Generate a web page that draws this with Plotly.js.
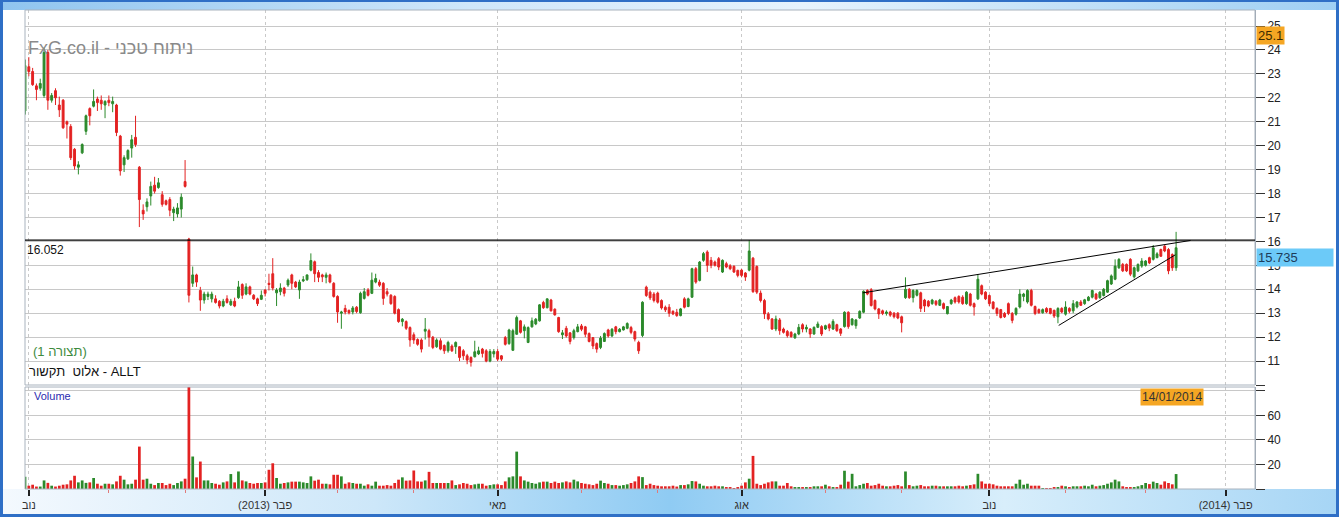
<!DOCTYPE html>
<html><head><meta charset="utf-8">
<script src="https://cdn.plot.ly/plotly-3.0.1.min.js"></script>
<style>
html,body{margin:0;padding:0;background:#fff;}
#frame{position:relative;width:1339px;height:517px;overflow:hidden;background:#fff;}
#topband{position:absolute;left:0;top:0;width:1339px;height:10px;background:linear-gradient(90deg,#8fc4ef 0%,#cfe7fa 35%,#e6f3fd 60%,#9fcff3 100%);}
#botband{position:absolute;left:0;top:489px;width:1339px;height:28px;background:linear-gradient(90deg,#f4f9fe 0%,#cde7f9 28%,#8fcbf3 50%,#d8eefb 75%,#a6d5f5 100%);}
#chart{position:absolute;left:0;top:0;width:1339px;height:517px;}
#border{position:absolute;left:0;top:0;width:1339px;height:517px;box-sizing:border-box;border:3px solid #2f6fc6;border-top-width:2px;pointer-events:none;}
</style></head>
<body>
<div id="frame"><div id="topband"></div><div id="botband"></div><div id="chart"></div><div id="border"></div></div>
<script>
// ---- data (ALLT daily, 31/10/2012 .. 14/01/2014) ----
const startDate = '2012-10-31';
const candleCount = 303;
const holidays = ['2012-10-29','2012-10-30','2012-11-22','2012-12-25','2013-01-01','2013-01-21','2013-02-18','2013-03-29','2013-05-27','2013-07-04','2013-09-02','2013-11-28','2013-12-25','2014-01-01','2014-01-20','2014-02-17'];

const open = [
21.45,23.3,23.1,22.5,22.4,22.1,23.9,21.9,22.3,21.7,
21.9,21.0,20.8,19.85,19.1,19.7,20.6,21.55,21.65,21.95,
21.9,21.7,21.9,21.75,21.7,20.4,19.2,19.45,19.9,20.35,
19.1,17.3,17.45,17.9,18.35,18.25,17.95,17.7,17.75,17.2,
17.15,17.35,18.5,16.1,14.25,14.6,13.95,13.55,13.7,13.6,
13.6,13.5,13.3,13.6,13.35,13.5,13.65,14.2,13.8,14.1,
13.75,13.6,13.58,13.97,14.25,14.65,13.85,13.9,14.05,14.18,
14.6,14.3,13.97,14.35,14.4,14.8,15.15,14.7,14.6,14.5,
14.6,14.25,13.7,13.0,13.2,13.12,13.05,13.25,13.02,13.62,
13.97,13.83,14.3,14.3,14.25,13.9,13.75,13.7,13.15,12.65,
12.65,12.4,12.1,11.9,11.88,12.25,12.27,12.0,11.6,11.85,
11.65,11.43,11.63,11.6,11.6,11.43,11.22,11.15,11.18,11.3,
11.5,11.43,11.0,11.3,11.4,11.22,11.98,11.73,11.45,12.12,
12.68,12.27,11.78,12.43,12.55,12.68,13.45,13.23,13.55,13.17,
12.82,12.1,12.37,12.18,11.98,12.23,12.47,12.43,12.15,11.98,
11.73,11.57,11.82,12.3,12.05,12.43,12.23,12.3,12.37,12.4,
12.23,11.78,12.07,14.09,13.88,13.8,13.84,13.53,13.25,13.25,
13.08,13.04,12.9,13.6,13.28,13.67,14.86,14.37,15.21,15.56,
15.21,15.14,15.28,14.72,15.07,14.98,14.96,14.79,14.8,14.68,
14.8,15.3,14.95,13.84,13.53,12.97,12.76,12.34,12.72,12.34,
12.24,12.2,11.97,12.13,12.52,12.34,12.34,12.13,12.41,12.44,
12.34,12.52,12.34,12.52,12.34,12.44,13.04,12.52,12.48,12.8,
13.04,13.95,13.98,13.53,13.18,13.1,12.99,13.05,13.0,13.0,
12.85,13.65,14.0,13.65,13.75,13.85,13.55,13.5,13.4,13.5,
13.33,13.4,12.98,13.4,13.65,13.7,13.67,13.4,13.8,13.4,
13.6,14.15,13.88,13.74,13.47,13.2,13.15,12.99,13.4,12.99,
12.96,13.26,13.7,13.47,13.95,13.28,13.15,13.02,13.2,13.2,
13.12,12.85,13.2,12.96,13.2,13.1,13.26,13.47,13.4,13.53,
13.67,13.8,13.65,13.74,13.88,14.22,14.42,14.9,15.04,15.04,
15.25,14.52,14.77,14.97,15.0,15.32,15.25,15.32,15.66,15.8,
15.66,15.45,14.9];
const high = [
23.6,23.7,23.25,22.6,22.8,24.1,24.0,22.2,22.4,22.05,
21.95,21.05,20.9,19.9,19.35,20.1,21.3,21.6,22.35,22.05,
22.1,21.9,22.1,22.05,21.75,20.45,19.6,19.85,20.45,21.25,
19.15,17.55,17.8,18.5,18.7,18.65,18.1,17.75,17.85,17.45,
17.6,18.0,19.4,16.15,14.95,14.65,14.1,13.9,13.9,13.9,
13.75,13.55,13.6,13.75,13.6,13.65,14.35,14.25,14.25,14.15,
13.8,13.65,13.95,14.0,14.65,15.3,14.05,14.25,14.1,14.45,
14.65,14.35,14.4,14.55,14.62,15.5,15.2,14.8,14.65,14.7,
14.65,14.3,13.75,13.1,13.35,13.15,13.3,13.3,13.9,14.05,
14.05,14.7,14.65,14.4,14.3,14.05,13.8,13.75,13.2,12.8,
12.7,12.45,12.2,11.95,11.95,12.8,12.35,12.05,11.95,11.95,
11.7,11.85,11.7,11.82,11.62,11.5,11.3,11.2,11.85,11.6,
11.55,11.5,11.5,11.5,11.5,11.25,12.05,12.35,12.35,12.9,
12.72,12.53,12.45,12.82,12.8,13.38,13.52,13.62,13.6,13.2,
12.85,12.3,12.47,12.2,12.35,12.55,12.55,12.47,12.2,12.0,
11.78,12.05,12.2,12.35,12.38,12.47,12.38,12.47,12.62,12.47,
12.27,11.85,13.5,14.15,13.95,13.88,13.9,13.58,13.32,13.38,
13.12,13.18,13.22,13.67,13.65,14.9,14.93,15.18,15.56,15.63,
15.35,15.2,15.35,15.25,15.15,15.05,15.0,14.82,14.85,14.72,
16.05,15.35,15.0,13.95,13.6,13.05,12.8,12.9,12.8,12.4,
12.3,12.25,12.18,12.55,12.58,12.52,12.38,12.45,12.65,12.5,
12.52,12.58,12.75,12.56,12.38,13.08,13.08,12.8,12.76,13.12,
13.95,14.0,14.05,13.58,13.22,13.15,13.12,13.1,13.05,13.05,
12.9,14.5,14.05,14.0,14.0,13.9,13.6,13.55,13.6,13.55,
13.6,13.45,13.3,13.6,13.7,13.75,13.75,13.92,13.85,13.45,
14.63,14.2,13.92,13.78,13.5,13.25,13.18,13.05,13.45,13.05,
13.25,14.0,13.85,14.0,14.02,13.32,13.2,13.2,13.25,13.22,
13.15,13.25,13.25,13.5,13.25,13.55,13.5,13.55,13.6,13.72,
13.98,13.85,13.92,14.05,14.4,14.62,15.25,15.3,15.1,15.08,
15.3,14.95,15.08,15.3,15.22,15.36,15.85,15.55,15.7,15.85,
15.72,15.5,16.4];
const low = [
21.3,22.9,22.5,21.9,22.3,22.0,21.5,21.8,21.7,21.2,
20.7,20.3,19.4,19.0,18.8,19.65,20.45,20.85,21.6,21.45,
21.5,21.15,21.65,21.4,20.4,18.75,18.9,19.4,19.5,19.95,
16.6,16.9,17.25,17.5,18.0,18.2,17.45,17.5,17.05,16.85,
17.0,17.0,18.25,13.45,14.1,14.1,13.1,13.4,13.55,13.45,
13.4,13.2,13.25,13.4,13.3,13.25,13.6,13.6,13.75,13.75,
13.55,13.3,13.55,13.7,13.95,13.95,13.3,13.75,13.7,14.1,
14.0,14.05,13.6,14.3,14.35,14.75,14.3,14.3,14.3,14.25,
14.25,13.65,12.6,12.35,12.95,12.95,12.95,13.0,12.98,13.57,
13.7,13.8,14.25,14.1,13.35,13.7,13.35,12.95,12.6,12.45,
12.3,11.6,11.72,11.64,11.36,11.9,11.6,11.5,11.55,11.45,
11.3,11.35,11.38,11.3,11.0,11.05,10.87,10.77,11.15,11.25,
11.15,10.95,10.95,11.15,11.0,11.0,11.65,11.68,11.42,12.1,
12.15,11.95,11.75,12.4,12.5,12.65,13.18,13.2,13.07,12.9,
12.18,11.92,11.98,11.7,11.9,12.2,12.25,12.0,11.78,11.5,
11.35,11.5,11.8,11.98,12.0,12.12,12.2,12.28,12.33,12.12,
11.82,11.3,12.0,13.68,13.55,13.45,13.4,13.15,13.05,12.85,
12.92,12.85,12.87,13.2,13.25,13.64,14.23,14.33,15.15,14.72,
14.88,14.95,14.8,14.68,14.88,14.8,14.68,14.5,14.5,14.35,
14.75,13.85,13.8,13.45,12.76,12.7,12.3,12.25,12.1,12.15,
11.98,11.98,11.93,12.08,12.2,12.2,11.97,12.1,12.38,12.05,
12.3,12.25,12.3,12.22,12.05,12.4,12.35,12.48,12.35,12.76,
13.0,13.75,13.28,13.12,12.76,12.92,12.9,12.85,12.78,12.75,
12.2,13.6,13.6,13.45,13.7,13.05,13.05,13.25,13.35,13.3,
13.3,13.15,12.95,13.35,13.4,13.4,13.35,13.35,13.28,12.9,
13.55,13.75,13.55,13.3,13.15,12.88,12.78,12.8,12.92,12.58,
12.9,13.2,13.5,13.4,13.28,12.92,12.98,12.98,13.0,12.95,
12.8,12.58,13.0,12.9,13.0,13.0,13.2,13.3,13.35,13.5,
13.62,13.55,13.6,13.7,13.85,14.18,14.38,14.85,14.72,14.72,
14.55,14.45,14.72,14.9,14.95,15.05,15.2,15.3,15.35,15.55,
14.63,14.77,14.77];
const close = [
23.35,23.1,22.55,22.35,22.6,23.9,21.9,22.1,22.0,21.5,
20.75,20.9,19.5,19.15,19.2,20.05,21.25,21.25,21.85,21.8,
21.75,21.85,21.8,21.85,20.55,18.95,19.5,19.8,20.25,20.05,
17.75,17.15,17.65,18.3,18.1,18.45,17.55,17.55,17.3,17.35,
17.4,17.85,18.3,13.75,14.6,14.3,13.55,13.8,13.8,13.8,
13.45,13.3,13.5,13.45,13.5,13.3,14.1,13.75,14.1,13.8,
13.6,13.4,13.75,13.83,14.2,14.05,13.97,14.05,13.83,14.38,
14.25,14.1,14.3,14.4,14.6,15.2,14.65,14.5,14.52,14.6,
14.3,13.7,13.05,13.05,13.05,13.02,13.22,13.07,13.83,13.9,
13.75,14.38,14.45,14.17,13.62,13.8,13.4,13.0,12.65,12.75,
12.37,11.88,11.88,11.7,11.5,12.33,12.0,11.57,11.88,11.5,
11.43,11.78,11.43,11.78,11.15,11.22,11.04,10.95,11.39,11.43,
11.32,11.0,11.4,11.4,11.08,11.08,11.7,12.3,12.27,12.82,
12.2,12.43,12.4,12.68,12.75,13.35,13.23,13.6,13.1,12.93,
12.23,12.18,12.05,11.82,12.27,12.43,12.33,12.12,11.82,11.63,
11.5,11.96,12.15,12.05,12.33,12.23,12.33,12.43,12.57,12.2,
11.92,11.43,13.46,13.74,13.64,13.53,13.46,13.22,13.14,13.0,
12.97,12.9,13.18,13.25,13.6,14.86,14.3,15.14,15.49,15.0,
15.0,15.0,14.93,15.21,14.93,14.86,14.72,14.58,14.58,14.51,
15.6,13.9,13.88,13.53,12.97,12.76,12.34,12.76,12.27,12.2,
12.06,12.02,12.13,12.41,12.34,12.41,12.13,12.41,12.55,12.13,
12.48,12.38,12.66,12.27,12.16,13.04,12.44,12.76,12.72,13.08,
13.92,13.8,13.32,13.18,12.97,12.99,13.05,12.92,12.85,12.8,
12.6,14.0,13.65,13.95,13.95,13.2,13.3,13.3,13.55,13.37,
13.55,13.2,13.28,13.55,13.47,13.47,13.4,13.88,13.33,13.26,
14.42,13.8,13.6,13.4,13.2,12.99,12.82,12.85,12.99,12.7,
13.2,13.8,13.8,13.95,13.33,12.99,13.02,13.15,13.05,12.99,
12.88,13.2,13.05,13.26,13.08,13.4,13.47,13.33,13.56,13.67,
13.95,13.6,13.88,14.0,14.36,14.56,14.97,15.25,14.77,14.77,
14.63,14.9,15.04,15.18,15.18,15.1,15.73,15.48,15.38,15.6,
14.77,14.9,15.735];
const volume = [
10,2.7,3.5,2,2,7,5,2.7,2,2.7,
3.5,3.8,7,10.8,5.4,7,5,5.4,9,4.3,
2.7,4.3,4.3,3.8,6.2,10.8,7.6,3.8,4.3,7.6,
34.6,7.6,8.4,4.3,3.2,4.9,4.9,3.2,4.3,3.2,
4.9,6.2,8.4,90,26.5,9.5,22.4,7,7,4.9,
4.3,3.5,5.4,6.2,12.2,5.4,14.3,7,6.2,4.9,
4.3,4.9,4.9,5.4,15.7,21,9,4.3,4.9,5.4,
6,6,6,5.4,4.9,10.3,6.8,7.6,4.3,4.3,
3.8,11.6,11.6,10.3,4.3,5.4,4.9,4.3,4.3,2.7,
3.8,2.7,6,2.7,2.7,3.2,2.7,4.9,7.6,9.5,
6.8,7,15.1,6.2,6,7,14,4.9,4.9,4.9,
4.9,4.9,7,3.2,3.8,4.9,4.3,3.2,3.8,4.3,
4.3,2.7,3.2,3.8,3.8,3.2,6.2,9.5,10.3,30.5,
10.3,7,6,4.9,4.3,5.4,6,6,4.9,6,
4.9,5.4,6.2,5.4,7.6,6.2,4.9,4.3,3.8,3.2,
4.3,6.8,4.9,4.3,3.2,3.2,2.7,3.2,3.8,4.9,
6.2,10.3,9.7,3.2,4.3,3.2,2.7,2.2,2.2,2.2,
2.7,2,3.2,3.2,3.8,6.5,6.2,4.3,2.7,2.2,
2.2,2.7,2.2,2.2,1.6,1.6,0.8,1.6,2.7,5.4,
8.4,27,4.3,3.2,4.3,5.4,6.2,6.2,2.7,2.7,
4.9,2.2,1.6,1.6,1.6,1.6,1.6,2.2,2.2,2.2,
3.5,2.2,1.6,1.6,3.5,14.9,6,12.4,2.2,3.2,
4.3,4.9,2.7,3.2,4.3,2.7,2.2,2.2,2.7,3.2,
2.2,14.3,3.2,2.2,2.7,3.2,2.2,2.2,2.7,2.7,
2.2,2.2,2.2,2.2,2.2,2.7,2.2,2.7,3.2,3.8,
12.4,6.2,4.3,4.3,3.8,2.7,2.2,2.2,2.2,2.2,
4.3,7.6,3.5,4.3,2.7,2.7,2.7,0.8,0.8,0.8,
1.6,1.6,2.7,2.2,1.6,2.2,2.2,2.2,2.7,2.2,
3.5,2.2,2.7,3.2,4.3,5.4,7.6,6.2,2.2,1.6,
1.6,1.6,2.2,3.2,4.9,4,6,4.9,3.5,6.2,
4.9,3.8,12.2];

const tickDates = ['2012-11-01','2013-02-01','2013-05-01','2013-08-01','2013-11-01','2014-02-03'];
const tickLabels = ['נוב','(2013) פבר','מאי','אוג','נוב','(2014) פבר'];
const minorTickDates = ['2012-12-03','2013-01-02','2013-03-01','2013-04-01','2013-06-03','2013-07-01','2013-09-03','2013-10-01','2013-12-02','2014-01-02'];
const priceTicks = [10,11,12,13,14,15,16,17,18,19,20,21,22,23,24,25];
const priceTickLabels = ['','11','12','13','14','15','16','17','18','19','20','21','22','23','24','25'];
const volTicks = [0,20,40,60,80];
const volTickLabels = ['','20','40','60',''];

const levelLine = 16.052;
const lastValue = 15.735;
const maxLabel = '25.1';
const lastDateLabel = '14/01/2014';
// trend lines drawn on the chart: [trading-day index, price]
const upperTrend = [[219.8,13.85],[305.8,16.04]];
const lowerTrend = [[271.2,12.49],[301.8,15.44]];

// ---- calendar of trading days ----
function pad(n){return (n<10?'0':'')+n;}
function ymd(d){return d.getUTCFullYear()+'-'+pad(d.getUTCMonth()+1)+'-'+pad(d.getUTCDate());}
const calendar = [];
(function(){
  const d = new Date(startDate+'T00:00:00Z');
  while (calendar.length < candleCount + 40) {
    const wd = d.getUTCDay(), s = ymd(d);
    if (wd !== 0 && wd !== 6 && holidays.indexOf(s) < 0) calendar.push(s);
    d.setUTCDate(d.getUTCDate()+1);
  }
})();
const dates = calendar.slice(0, candleCount);
function idxDate(f){
  const i = Math.max(0, Math.floor(f));
  const t = new Date(calendar[i]+'T00:00:00Z').getTime() + (f - i)*86400000;
  const d = new Date(t);
  return ymd(d)+' '+pad(d.getUTCHours())+':'+pad(d.getUTCMinutes())+':00';
}

const G = '#2b8a2b', R = '#e32222';
const volColors = close.map((c,i)=> c >= open[i] ? G : R);

const traces = [
 {type:'candlestick', x:dates, open:open, high:high, low:low, close:close, xaxis:'x', yaxis:'y',
  increasing:{line:{color:G,width:1}, fillcolor:G}, decreasing:{line:{color:R,width:1}, fillcolor:R},
  whiskerwidth:0, hoverinfo:'skip'},
 {type:'bar', x:dates, y:volume, xaxis:'x', yaxis:'y2', marker:{color:volColors, line:{width:0}},
  width:0.72*86400000, hoverinfo:'skip'}
];

const priceDom = [0.2171, 1], volDom = [0, 0.2129];
const FONT = 'Liberation Sans, Arial, sans-serif';
const layout = {
  width:1339, height:517,
  margin:{l:25, r:84, t:10, b:28, pad:0},
  paper_bgcolor:'rgba(0,0,0,0)', plot_bgcolor:'#ffffff',
  showlegend:false, hovermode:false, dragmode:false,
  font:{family:FONT, size:12, color:'#222'},
  xaxis:{type:'date', anchor:'y2', range:[idxDate(-0.2), idxDate(322.7)],
    rangebreaks:[{bounds:['sat','mon']},{values:holidays}],
    rangeslider:{visible:false},
    tickmode:'array', tickvals:tickDates, ticktext:tickLabels,
    ticks:'outside', ticklen:6, tickwidth:2, tickcolor:'#222',
    tickfont:{size:11,color:'#333',family:FONT},
    showgrid:true, gridcolor:'#c9c9c9', griddash:'dot', gridwidth:1,
    zeroline:false, showline:false,
    minor:{tickmode:'array', tickvals:minorTickDates, ticks:'outside', ticklen:3, tickwidth:1, tickcolor:'#e07a7a', showgrid:false}},
  yaxis:{domain:priceDom, side:'right', range:[10,25.67], tickmode:'array', tickvals:priceTicks, ticktext:priceTickLabels,
    ticks:'outside', ticklen:9, tickwidth:1, tickcolor:'#333', tickfont:{size:12,color:'#222',family:FONT},
    showgrid:true, gridcolor:'#c8c8c8', gridwidth:1, zeroline:false, showline:true, linecolor:'#9aa5b1', linewidth:1, fixedrange:true},
  yaxis2:{domain:volDom, side:'right', range:[0,83.2], tickmode:'array', tickvals:volTicks, ticktext:volTickLabels,
    ticks:'outside', ticklen:9, tickwidth:1, tickcolor:'#333', tickfont:{size:12,color:'#222',family:FONT},
    showgrid:true, gridcolor:'#c8c8c8', gridwidth:1, zeroline:false, showline:true, linecolor:'#9aa5b1', linewidth:1, fixedrange:true},
  shapes:[
    {type:'rect', xref:'paper', yref:'paper', x0:0, x1:1, y0:priceDom[0], y1:priceDom[1], line:{color:'#a9b3be',width:1}, fillcolor:'rgba(0,0,0,0)', layer:'above'},
    {type:'rect', xref:'paper', yref:'paper', x0:0, x1:1, y0:volDom[0], y1:volDom[1], line:{color:'#a9b3be',width:1}, fillcolor:'rgba(0,0,0,0)', layer:'above'},
    {type:'line', xref:'paper', yref:'y', x0:0, x1:1, y0:levelLine, y1:levelLine, line:{color:'#000',width:1.3}},
    {type:'line', xref:'x', yref:'y', x0:idxDate(upperTrend[0][0]), y0:upperTrend[0][1], x1:idxDate(upperTrend[1][0]), y1:upperTrend[1][1], line:{color:'#000',width:1}},
    {type:'line', xref:'x', yref:'y', x0:idxDate(lowerTrend[0][0]), y0:lowerTrend[0][1], x1:idxDate(lowerTrend[1][0]), y1:lowerTrend[1][1], line:{color:'#000',width:1}}
  ],
  annotations:[
    {xref:'paper', yref:'y', x:0, y:24.1, xanchor:'left', yanchor:'middle', xshift:1, showarrow:false,
     text:'FxG.co.il - ניתוח טכני', font:{size:18,color:'#8a8a8a',family:FONT}},
    {xref:'paper', yref:'y', x:0, y:levelLine, xanchor:'left', yanchor:'top', xshift:0, yshift:-1, showarrow:false,
     text:String(levelLine), font:{size:12,color:'#111',family:FONT}},
    {xref:'paper', yref:'y', x:0, y:11.39, xanchor:'left', yanchor:'middle', xshift:6, showarrow:false,
     text:'(תצורה 1)', font:{size:13,color:'#3d8b3d',family:FONT}},
    {xref:'paper', yref:'y', x:0, y:10.55, xanchor:'left', yanchor:'middle', xshift:2, showarrow:false,
     text:'אלוט  תקשור - ALLT', font:{size:13,color:'#111',family:FONT}},
    {xref:'paper', yref:'y2', x:0, y:75.9, xanchor:'left', yanchor:'middle', xshift:7, showarrow:false,
     text:'Volume', font:{size:11,color:'#2b2bb0',family:FONT}},
    {xref:'x', yref:'y2', x:dates[dates.length-1], y:83.2, xanchor:'center', yanchor:'top', xshift:-4, yshift:-1, showarrow:false,
     text:lastDateLabel, bgcolor:'#f5a623', borderpad:1, font:{size:12,color:'#333',family:FONT}},
    {xref:'paper', yref:'y', x:1, y:24.6, xanchor:'left', yanchor:'middle', xshift:1, showarrow:false,
     text:maxLabel, bgcolor:'#f5a623', borderpad:1, font:{size:13,color:'#3a2a00',family:FONT}},
    {xref:'paper', yref:'y', x:1, y:lastValue, xanchor:'left', yanchor:'top', xshift:1, showarrow:false,
     text:String(lastValue), bgcolor:'#6ccaf8', width:74, align:'left', borderpad:1, font:{size:13,color:'#1d3c5a',family:FONT}}
  ]
};
Plotly.newPlot('chart', traces, layout, {displayModeBar:false, staticPlot:true});
</script>
</body></html>
